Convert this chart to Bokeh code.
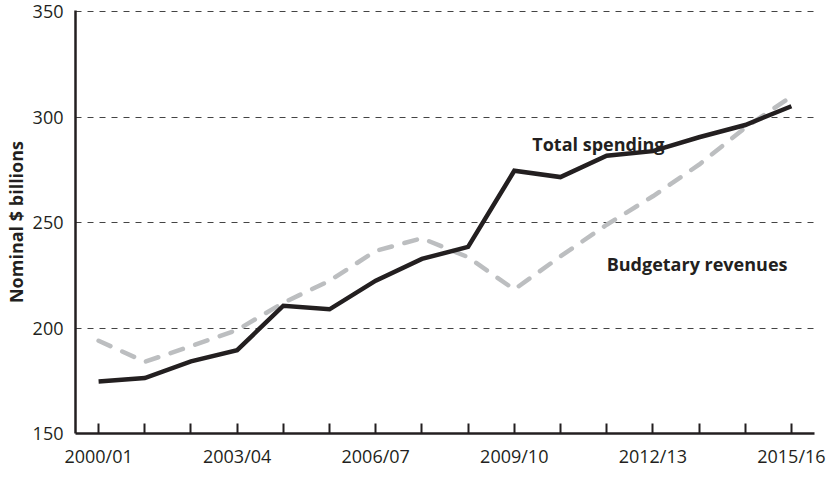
from bokeh.plotting import figure
from bokeh.models import FixedTicker, Range1d, Label
from bokeh.embed import file_html
from bokeh.resources import INLINE

years = ["2000/01", "2001/02", "2002/03", "2003/04", "2004/05", "2005/06",
         "2006/07", "2007/08", "2008/09", "2009/10", "2010/11", "2011/12",
         "2012/13", "2013/14", "2014/15", "2015/16"]
spending = [174.7, 176.3, 184.2, 189.5, 210.6, 208.9, 222.5, 232.8, 238.5,
            274.6, 271.6, 281.7, 283.9, 290.5, 296.3, 305.2]
revenues = [194.0, 184.0, 191.4, 199.1, 212.0, 222.4, 236.6, 242.6, 233.6,
            218.3, 234.0, 249.0, 262.5, 277.5, 295.0, 309.8]
labelled = ["2000/01", "2003/04", "2006/07", "2009/10", "2012/13", "2015/16"]
y_ticks = [150, 200, 250, 300, 350]

xs = list(range(len(years)))
FONT = "Open Sans"
INK = "#231f20"

p = figure(width=829, height=470, output_backend="svg", toolbar_location=None,
           x_range=Range1d(-0.5, len(years) - 0.5), y_range=Range1d(150, 350.6),
           min_border_left=66, min_border_right=15, min_border_top=10,
           min_border_bottom=20)
p.outline_line_color = None
p.background_fill_color = "white"

p.line(xs, revenues, line_color="#bcbec0", line_width=4.5, line_dash="13 13",
       line_cap="round")
p.line(xs, spending, line_color=INK, line_width=4.5, line_join="miter")

# axes
p.xaxis.ticker = FixedTicker(ticks=xs)
p.xaxis.major_label_overrides = {i: (y if y in labelled else "") for i, y in enumerate(years)}
p.xaxis.major_tick_in = 10
p.xaxis.major_tick_out = 0
p.xaxis.minor_tick_line_color = None
p.xaxis.major_tick_line_width = 2
p.xaxis.major_tick_line_color = INK
p.xaxis.axis_line_width = 2.5
p.xaxis.axis_line_color = INK
p.xaxis.major_label_standoff = 10
p.xaxis.major_label_text_line_height = 0.8
p.xaxis.major_label_text_font = FONT
p.xaxis.major_label_text_font_size = "18px"
p.xaxis.major_label_text_color = INK

p.yaxis.ticker = FixedTicker(ticks=y_ticks)
p.yaxis.major_tick_in = 0
p.yaxis.major_tick_out = 0
p.yaxis.minor_tick_line_color = None
p.yaxis.axis_line_width = 2.5
p.yaxis.axis_line_color = INK
p.yaxis.major_label_standoff = 12
p.yaxis.major_label_text_font = FONT
p.yaxis.major_label_text_font_size = "18px"
p.yaxis.major_label_text_color = INK
p.yaxis.axis_label = "Nominal $ billions"
p.yaxis.axis_label_text_font = FONT
p.yaxis.axis_label_text_font_style = "bold"
p.yaxis.axis_label_text_font_size = "18px"
p.yaxis.axis_label_text_color = INK
p.yaxis.axis_label_standoff = 2

p.xgrid.grid_line_color = None
p.ygrid.ticker = FixedTicker(ticks=[200, 250, 300, 350])
p.ygrid.grid_line_color = "#444444"
p.ygrid.grid_line_width = 1
p.ygrid.grid_line_dash = "6 6"

p.add_layout(Label(x=9.39, y=287.2, text="Total spending", text_font=FONT,
                   text_font_style="bold", text_font_size="18px",
                   text_color=INK, text_baseline="alphabetic"))
p.add_layout(Label(x=11.0, y=230.6, text="Budgetary revenues", text_font=FONT,
                   text_font_style="bold", text_font_size="18px",
                   text_color=INK, text_baseline="alphabetic"))

open("out.html", "w").write(file_html(p, INLINE))
